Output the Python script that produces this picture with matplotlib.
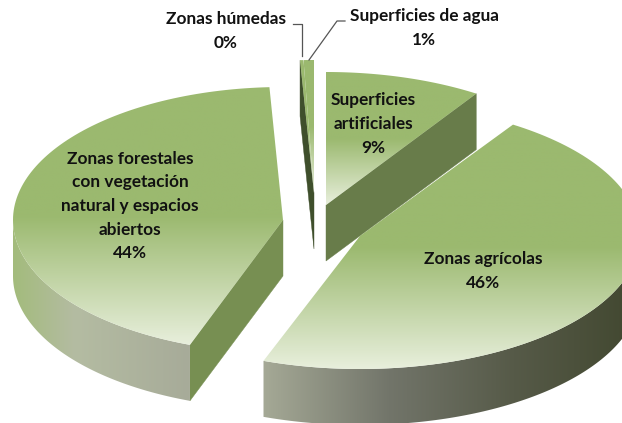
import matplotlib

matplotlib.use("Agg")
import matplotlib.pyplot as plt
import numpy as np
from matplotlib.colors import LinearSegmentedColormap
from matplotlib.patches import Polygon

# valores (en %), en sentido horario desde arriba
categorias = ["Superficies\nartificiales", "Zonas agrícolas",
              "Zonas forestales\ncon vegetación\nnatural y espacios\nabiertos",
              "Zonas húmedas", "Superficies de agua"]
valores = [9.2, 46.4, 43.6, 0.2, 0.6]
etiquetas = ["9%", "46%", "44%", "0%", "1%"]

# geometria en pixeles de la imagen
vertices = [(326, 205), (360, 236), (283, 220), (314, 193), (314, 193)]
radios_x = [275, 280, 270, 278, 278]
RADIO_Y = 133
GROSOR = 56
pos_texto = [(373, 124), (483, 271), (130, 206), (226, 31), (424, 28)]

VERDE = "#9bb96f"
PALIDO = "#e8efdc"


def borde(v, rx, a0, a1):
    t = np.radians(np.linspace(a0, a1, 120))
    return np.column_stack([v[0] + rx * np.sin(t), v[1] - RADIO_Y * np.cos(t)])


def degradado(ax, pts, stops, vertical=True):
    # rellena el poligono con un degradado lineal recortado
    cmap = LinearSegmentedColormap.from_list("g", stops)
    x0, y0 = pts.min(axis=0)
    x1, y1 = pts.max(axis=0)
    g = np.linspace(0, 1, 256)
    g = g.reshape(-1, 1) if vertical else g.reshape(1, -1)
    im = ax.imshow(g, cmap=cmap, extent=(x0, x1, y1, y0), aspect="auto", zorder=2)
    clip = Polygon(pts, closed=True, transform=ax.transData)
    im.set_clip_path(clip)
    ax.add_patch(Polygon(pts, closed=True, fill=False, ec="none"))


def cara(ax, pts, color):
    ax.add_patch(Polygon(pts, closed=True, fc=color, ec=color, lw=0.3, zorder=2))


fig = plt.figure(figsize=(6.22, 4.23), dpi=100)
ax = fig.add_axes([0, 0, 1, 1])
ax.axis("off")

fracciones = np.array(valores) / sum(valores) * 360
fin = np.cumsum(fracciones)
ini = fin - fracciones
sup = [(0, VERDE), (0.5, VERDE), (1, PALIDO)]

# humedas y agua: franja oscura y caras superiores
v = vertices[3]
r = borde(v, radios_x[3], ini[3], ini[3] + 0.01)[0]
cara(ax, np.array([r, v, (v[0], v[1] + GROSOR), (r[0], r[1] + GROSOR)]), "#3f4f2c")
for i in (3, 4):
    pts = np.vstack([borde(vertices[i], radios_x[i], ini[i], fin[i]), vertices[i]])
    degradado(ax, pts, sup)

# superficies artificiales: cara de corte y cara superior
v = vertices[0]
r = borde(v, radios_x[0], fin[0], fin[0] + 0.01)[0]
cara(ax, np.array([v, r, (r[0], r[1] + GROSOR), (v[0], v[1] + GROSOR)]), "#687c4a")
degradado(ax, np.vstack([borde(v, radios_x[0], ini[0], fin[0]), v]), sup)

# zonas forestales
v = vertices[2]
r = borde(v, radios_x[2], ini[2], ini[2] + 0.01)[0]
cara(ax, np.array([v, r, (r[0], r[1] + GROSOR), (v[0], v[1] + GROSOR)]), "#778f52")
lado = borde(v, radios_x[2], ini[2], 270)
degradado(ax, np.vstack([lado, (lado + [0, GROSOR])[::-1]]),
          [(0, "#a3bb7c"), (0.35, "#b4bca2"), (1, "#a7ab99")], vertical=False)
degradado(ax, np.vstack([borde(v, radios_x[2], ini[2], fin[2]), v]), sup)

# zonas agricolas
v = vertices[1]
lado = borde(v, radios_x[1], 90, fin[1])
degradado(ax, np.vstack([lado, (lado + [0, GROSOR])[::-1]]),
          ["#a5a996", "#72756a", "#565a48", "#41472f"], vertical=False)
degradado(ax, np.vstack([borde(v, radios_x[1], ini[1], fin[1]), v]), sup)

# lineas guia
ax.plot([293, 302, 302], [24, 24, 56], color="#555555", lw=0.9, zorder=3)
ax.plot([345, 337, 309], [21, 21, 60], color="#555555", lw=0.9, zorder=3)

for cat, et, (x, y) in zip(categorias, etiquetas, pos_texto):
    ax.text(x, y, f"{cat}\n{et}", ha="center", va="center", family="Lato",
            weight="bold", fontsize=12.4, color="#111111", linespacing=1.58, zorder=4)

ax.set_xlim(0, 622)
ax.set_ylim(423, 0)
fig.savefig("out.png", dpi=100, facecolor="white")
plt.close()
